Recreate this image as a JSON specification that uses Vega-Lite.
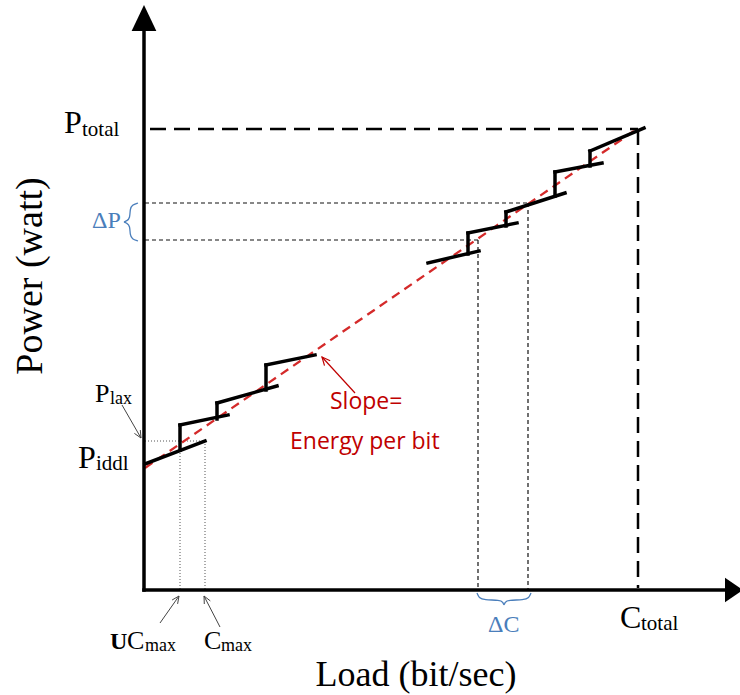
{
  "$schema": "https://vega.github.io/schema/vega-lite/v6.json",
  "width": 740,
  "height": 695,
  "autosize": {"type": "none"},
  "padding": 0,
  "background": "white",
  "config": {"view": {"stroke": null}},
  "datasets": {
    "steps": [
      {"id": "s1", "x": 1, "y": 126}, {"id": "s1", "x": 61, "y": 149},
      {"id": "r1", "x": 36, "y": 140}, {"id": "r1", "x": 36, "y": 165},
      {"id": "s2", "x": 36, "y": 165}, {"id": "s2", "x": 84, "y": 175},
      {"id": "r2", "x": 73, "y": 171}, {"id": "r2", "x": 73, "y": 187},
      {"id": "s3", "x": 73, "y": 187}, {"id": "s3", "x": 133, "y": 204},
      {"id": "r3", "x": 122, "y": 200}, {"id": "r3", "x": 122, "y": 225},
      {"id": "s4", "x": 122, "y": 225}, {"id": "s4", "x": 171, "y": 235},
      {"id": "s5", "x": 284, "y": 327}, {"id": "s5", "x": 335, "y": 339},
      {"id": "r5", "x": 324, "y": 336}, {"id": "r5", "x": 324, "y": 357},
      {"id": "s6", "x": 324, "y": 357}, {"id": "s6", "x": 373, "y": 367},
      {"id": "r6", "x": 362, "y": 364}, {"id": "r6", "x": 362, "y": 378},
      {"id": "s7", "x": 362, "y": 378}, {"id": "s7", "x": 421, "y": 397},
      {"id": "r7", "x": 411, "y": 394}, {"id": "r7", "x": 411, "y": 418},
      {"id": "s8", "x": 411, "y": 418}, {"id": "s8", "x": 458, "y": 427},
      {"id": "r8", "x": 446, "y": 424}, {"id": "r8", "x": 446, "y": 439},
      {"id": "s9", "x": 446, "y": 439}, {"id": "s9", "x": 500, "y": 462}
    ],
    "slope": [
      {"id": "e", "x": 1, "y": 122}, {"id": "e", "x": 490, "y": 459}
    ],
    "longdash": [
      {"id": "h", "x": 6, "y": 461}, {"id": "h", "x": 494, "y": 461},
      {"id": "v", "x": 494, "y": 461}, {"id": "v", "x": 494, "y": 2}
    ],
    "dashed": [
      {"id": "h1", "x": 1, "y": 387}, {"id": "h1", "x": 384, "y": 387},
      {"id": "h2", "x": 1, "y": 350}, {"id": "h2", "x": 334, "y": 350},
      {"id": "v1", "x": 334, "y": 350}, {"id": "v1", "x": 334, "y": 0},
      {"id": "v2", "x": 384, "y": 387}, {"id": "v2", "x": 384, "y": 0}
    ],
    "dotted": [
      {"id": "h", "x": 1, "y": 149}, {"id": "h", "x": 61, "y": 149},
      {"id": "v1", "x": 36, "y": 149}, {"id": "v1", "x": 36, "y": 0},
      {"id": "v2", "x": 61, "y": 149}, {"id": "v2", "x": 61, "y": 0}
    ],
    "axes": [
      {"id": "y", "x": 0, "y": 0}, {"id": "y", "x": 0, "y": 563},
      {"id": "x", "x": 0, "y": 0}, {"id": "x", "x": 583, "y": 0}
    ],
    "arrowUp": [{"x": 0, "y": 572}],
    "arrowRight": [{"x": 590, "y": 0}],
    "pointers": [
      {"id": "plax-shaft", "ord": 0, "x": -22, "y": 185}, {"id": "plax-shaft", "ord": 1, "x": -3, "y": 152},
      {"id": "plax-head", "ord": 0, "x": -3.7, "y": 160}, {"id": "plax-head", "ord": 1, "x": -3, "y": 152}, {"id": "plax-head", "ord": 2, "x": -9.6, "y": 156.6},
      {"id": "uc-shaft", "ord": 0, "x": 16, "y": -33}, {"id": "uc-shaft", "ord": 1, "x": 35, "y": -6},
      {"id": "uc-head", "ord": 0, "x": 28.1, "y": -10}, {"id": "uc-head", "ord": 1, "x": 35, "y": -6}, {"id": "uc-head", "ord": 2, "x": 33.6, "y": -13.9},
      {"id": "c-shaft", "ord": 0, "x": 76, "y": -37}, {"id": "c-shaft", "ord": 1, "x": 60, "y": -6},
      {"id": "c-head", "ord": 0, "x": 60.3, "y": -14}, {"id": "c-head", "ord": 1, "x": 60, "y": -6}, {"id": "c-head", "ord": 2, "x": 66.3, "y": -10.9}
    ],
    "slopePointer": [
      {"id": "shaft", "ord": 0, "x": 211, "y": 197}, {"id": "shaft", "ord": 1, "x": 178, "y": 233},
      {"id": "head", "ord": 0, "x": 180.5, "y": 224.4}, {"id": "head", "ord": 1, "x": 178, "y": 233}, {"id": "head", "ord": 2, "x": 186.2, "y": 229.3}
    ],
    "braces": [
      {"id": "dp", "ord": 0, "x": -6, "y": 387}, {"id": "dp", "ord": 1, "x": -12, "y": 385}, {"id": "dp", "ord": 2, "x": -14, "y": 381},
      {"id": "dp", "ord": 3, "x": -14, "y": 372}, {"id": "dp", "ord": 4, "x": -17, "y": 369}, {"id": "dp", "ord": 5, "x": -21, "y": 368},
      {"id": "dp", "ord": 6, "x": -17, "y": 367}, {"id": "dp", "ord": 7, "x": -14, "y": 364}, {"id": "dp", "ord": 8, "x": -14, "y": 355},
      {"id": "dp", "ord": 9, "x": -12, "y": 351}, {"id": "dp", "ord": 10, "x": -6, "y": 349},
      {"id": "dc", "ord": 0, "x": 333, "y": -3}, {"id": "dc", "ord": 1, "x": 335, "y": -8}, {"id": "dc", "ord": 2, "x": 340, "y": -10},
      {"id": "dc", "ord": 3, "x": 356, "y": -10}, {"id": "dc", "ord": 4, "x": 359, "y": -12}, {"id": "dc", "ord": 5, "x": 360, "y": -16},
      {"id": "dc", "ord": 6, "x": 361, "y": -12}, {"id": "dc", "ord": 7, "x": 364, "y": -10}, {"id": "dc", "ord": 8, "x": 380, "y": -10},
      {"id": "dc", "ord": 9, "x": 385, "y": -8}, {"id": "dc", "ord": 10, "x": 387, "y": -3}
    ],
    "titleX": [{"label": "Load (bit/sec)", "x": 272, "y": -96}],
    "titleY": [{"label": "Power (watt)", "x": -102, "y": 314}],
    "bigLetters": [
      {"label": "P", "x": -80, "y": 457},
      {"label": "P", "x": -66, "y": 122},
      {"label": "C", "x": 476, "y": -38}
    ],
    "midLetters": [
      {"label": "P", "x": -49, "y": 188},
      {"label": "C", "x": -17, "y": -59},
      {"label": "C", "x": 60, "y": -59}
    ],
    "subsLarge": [
      {"label": "total", "x": -62, "y": 454},
      {"label": "iddl", "x": -48, "y": 120},
      {"label": "total", "x": 497, "y": -40}
    ],
    "subsSmall": [
      {"label": "lax", "x": -34, "y": 186},
      {"label": "max", "x": 1, "y": -61},
      {"label": "max", "x": 77, "y": -61}
    ],
    "boldU": [{"label": "U", "x": -34, "y": -59}],
    "deltas": [
      {"label": "ΔP", "x": -52, "y": 362},
      {"label": "ΔC", "x": 344, "y": -42}
    ],
    "note": [
      {"label": "Slope=", "x": 186, "y": 181},
      {"label": "Energy per bit", "x": 146, "y": 141}
    ]
  },
  "encoding": {
    "x": {"field": "x", "type": "quantitative", "scale": {"domain": [-144, 596], "nice": false, "zero": false}, "axis": null},
    "y": {"field": "y", "type": "quantitative", "scale": {"domain": [-105, 590], "nice": false, "zero": false}, "axis": null}
  },
  "layer": [
    {
      "data": {"name": "dotted"},
      "mark": {"type": "line", "color": "#555555", "strokeWidth": 1, "strokeDash": [1, 2]},
      "encoding": {"detail": {"field": "id"}}
    },
    {
      "data": {"name": "dashed"},
      "mark": {"type": "line", "color": "#111111", "strokeWidth": 1.2, "strokeDash": [4, 3]},
      "encoding": {"detail": {"field": "id"}}
    },
    {
      "data": {"name": "longdash"},
      "mark": {"type": "line", "color": "#000000", "strokeWidth": 2.5, "strokeDash": [16, 8]},
      "encoding": {"detail": {"field": "id"}}
    },
    {
      "data": {"name": "slope"},
      "mark": {"type": "line", "color": "#d42a2a", "strokeWidth": 2.3, "strokeDash": [9, 6]},
      "encoding": {"detail": {"field": "id"}}
    },
    {
      "data": {"name": "steps"},
      "mark": {"type": "line", "color": "#000000", "strokeWidth": 3.5, "strokeCap": "square"},
      "encoding": {"detail": {"field": "id"}}
    },
    {
      "data": {"name": "axes"},
      "mark": {"type": "line", "color": "#000000", "strokeWidth": 3.5, "strokeCap": "square"},
      "encoding": {"detail": {"field": "id"}}
    },
    {
      "data": {"name": "arrowUp"},
      "mark": {"type": "point", "shape": "M0,-1L-0.95,1L0.95,1Z", "size": 676, "filled": true, "color": "#000000", "opacity": 1}
    },
    {
      "data": {"name": "arrowRight"},
      "mark": {"type": "point", "shape": "M1,0L-1,-1.35L-1,1.35Z", "size": 324, "filled": true, "color": "#000000", "opacity": 1}
    },
    {
      "data": {"name": "pointers"},
      "mark": {"type": "line", "color": "#444444", "strokeWidth": 1},
      "encoding": {"detail": {"field": "id"}, "order": {"field": "ord", "type": "quantitative"}}
    },
    {
      "data": {"name": "slopePointer"},
      "mark": {"type": "line", "color": "#c00000", "strokeWidth": 1.2},
      "encoding": {"detail": {"field": "id"}, "order": {"field": "ord", "type": "quantitative"}}
    },
    {
      "data": {"name": "braces"},
      "mark": {"type": "line", "color": "#4a7ebb", "strokeWidth": 1.3, "interpolate": "basis"},
      "encoding": {"detail": {"field": "id"}, "order": {"field": "ord", "type": "quantitative"}}
    },
    {
      "data": {"name": "titleX"},
      "mark": {"type": "text", "font": "Liberation Serif", "fontSize": 36, "align": "center", "baseline": "alphabetic", "color": "#000000"},
      "encoding": {"text": {"field": "label"}}
    },
    {
      "data": {"name": "titleY"},
      "mark": {"type": "text", "font": "Liberation Serif", "fontSize": 38, "align": "center", "baseline": "alphabetic", "angle": 270, "color": "#000000"},
      "encoding": {"text": {"field": "label"}}
    },
    {
      "data": {"name": "bigLetters"},
      "mark": {"type": "text", "font": "Liberation Serif", "fontSize": 32, "align": "left", "baseline": "alphabetic", "color": "#000000"},
      "encoding": {"text": {"field": "label"}}
    },
    {
      "data": {"name": "midLetters"},
      "mark": {"type": "text", "font": "Liberation Serif", "fontSize": 26, "align": "left", "baseline": "alphabetic", "color": "#000000"},
      "encoding": {"text": {"field": "label"}}
    },
    {
      "data": {"name": "subsLarge"},
      "mark": {"type": "text", "font": "Liberation Serif", "fontSize": 21, "align": "left", "baseline": "alphabetic", "color": "#000000"},
      "encoding": {"text": {"field": "label"}}
    },
    {
      "data": {"name": "subsSmall"},
      "mark": {"type": "text", "font": "Liberation Serif", "fontSize": 18, "align": "left", "baseline": "alphabetic", "color": "#000000"},
      "encoding": {"text": {"field": "label"}}
    },
    {
      "data": {"name": "boldU"},
      "mark": {"type": "text", "font": "Liberation Serif", "fontSize": 24, "fontWeight": "bold", "align": "left", "baseline": "alphabetic", "color": "#000000"},
      "encoding": {"text": {"field": "label"}}
    },
    {
      "data": {"name": "deltas"},
      "mark": {"type": "text", "font": "Liberation Serif", "fontSize": 24, "align": "left", "baseline": "alphabetic", "color": "#4a7ebb"},
      "encoding": {"text": {"field": "label"}}
    },
    {
      "data": {"name": "note"},
      "mark": {"type": "text", "font": "Open Sans", "fontSize": 23, "align": "left", "baseline": "alphabetic", "color": "#c00000"},
      "encoding": {"text": {"field": "label"}}
    }
  ]
}
